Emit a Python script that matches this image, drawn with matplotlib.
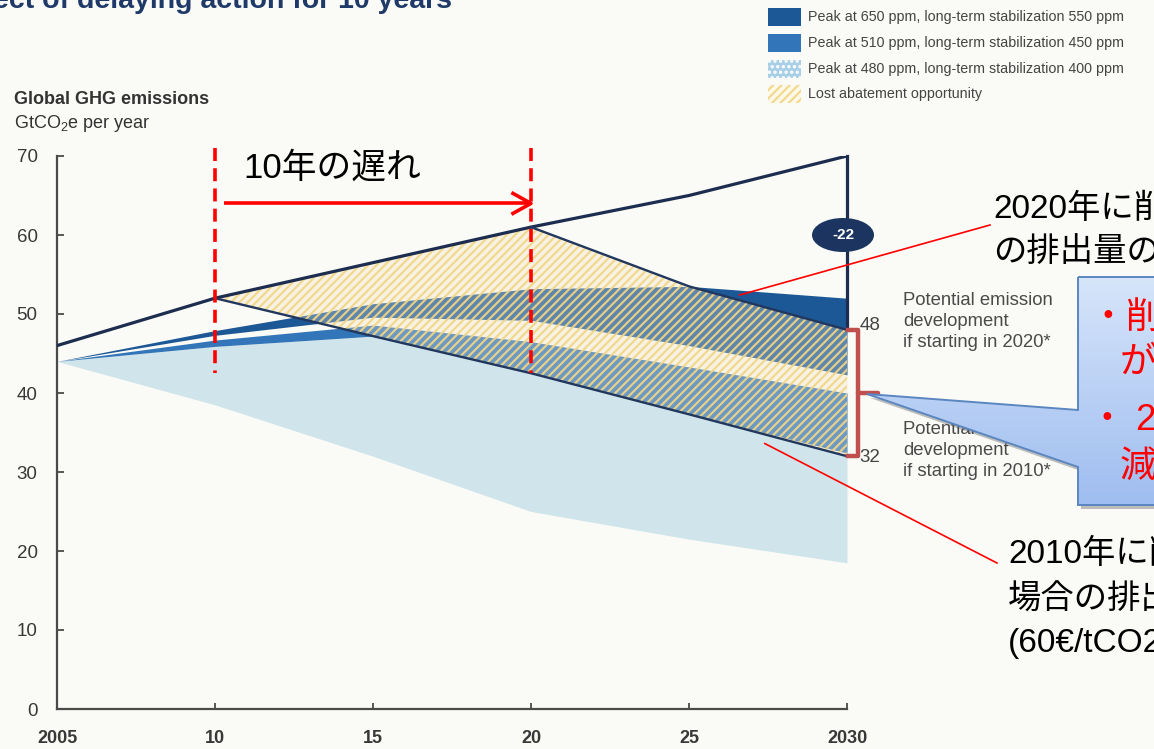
import numpy as np
import matplotlib
matplotlib.use("Agg")
import matplotlib.pyplot as plt
from matplotlib.patches import Polygon, Ellipse, Rectangle
from matplotlib.colors import LinearSegmentedColormap

# ---------------------------------------------------------------- data
years = [2005, 2010, 2015, 2020, 2025, 2030]
year_labels = ["2005", "10", "15", "20", "25", "2030"]
y_ticks = [0, 10, 20, 30, 40, 50, 60, 70]

# business-as-usual emissions, GtCO2e per year
bau = [46, 52, 56.5, 61, 65, 70]

# abatement paths
start2010_years = [2010, 2015, 2020, 2025, 2030]
start2010 = [52, 47.2, 42.5, 37.3, 32]
start2020_years = [2020, 2025, 2030]
start2020 = [61, 53.5, 48]

# stabilization pathway ranges
p550_hi = [44, 47.9, 51.3, 53.2, 53.5, 52.0]
p550_lo = [44, 47.3, 49.6, 49.2, 46.0, 42.3]
p450_hi = [44, 46.7, 48.6, 46.5, 43.3, 40.0]
p450_lo = [44, 45.9, 47.2, 42.5, 37.3, 32.4]
p400_lo = [44, 38.5, 32.0, 25.0, 21.5, 18.5]

legend_labels = [
    "Peak at 650 ppm, long-term stabilization 550 ppm",
    "Peak at 510 ppm, long-term stabilization 450 ppm",
    "Peak at 480 ppm, long-term stabilization 400 ppm",
    "Lost abatement opportunity",
]

# ---------------------------------------------------------------- style
JP = ["Liberation Sans", "Noto Sans CJK JP", "DejaVu Sans"]
plt.rcParams["font.family"] = ["Liberation Sans", "Noto Sans CJK JP", "DejaVu Sans"]
plt.rcParams["mathtext.fontset"] = "custom"
plt.rcParams["mathtext.rm"] = "Liberation Sans"
plt.rcParams["mathtext.it"] = "Liberation Sans"
plt.rcParams["mathtext.bf"] = "Liberation Sans:bold"
plt.rcParams["hatch.linewidth"] = 1.6

BG = "#fafbf6"
NAVY_LINE = "#1d2d50"
C550 = "#1c5896"
C450 = "#3275b8"
C400 = "#d0e5eb"
CREAM = "#fdf9ea"
HATCH = (0.95, 0.84, 0.52, 0.9)
RED = "#ff0000"
BRACKET = "#c0504d"

W, H = 1154, 749
fig = plt.figure(figsize=(W / 100, H / 100), dpi=100, facecolor=BG)


def fr(x, y):
    """pixel position (top-left origin) -> figure fraction"""
    return x / W, 1 - y / H


x0, y0 = fr(57, 709)
x1, y1 = fr(847, 156)
ax = fig.add_axes([x0, y0, x1 - x0, y1 - y0])
ax.set_xlim(2005, 2030)
ax.set_ylim(0, 70)
ax.patch.set_alpha(0)

yrs = np.array(start2010_years, dtype=float)
upper = np.where(yrs <= 2020,
                 np.interp(yrs, years, bau),
                 np.interp(yrs, start2020_years, start2020))

# 400 ppm range
ax.fill_between(years, p400_lo, p450_lo, color=C400, lw=0, zorder=1)
# lost abatement base
ax.fill_between(yrs, start2010, upper, color=CREAM, lw=0, zorder=2)
# 450 / 550 ppm ranges
ax.fill_between(years, p450_lo, p450_hi, color=C450, lw=0, zorder=3)
ax.fill_between(years, p550_lo, p550_hi, color=C550, lw=0, zorder=3)
# hatch veil over the lost abatement area
ax.fill_between(yrs, start2010, upper, color="#ece6d6", alpha=0.32, lw=0, zorder=4)
ax.fill_between(yrs, start2010, upper, facecolor="none", edgecolor=HATCH,
                hatch="////", lw=0, zorder=5)

# lines
ax.plot(years, bau, color=NAVY_LINE, lw=2.3, zorder=6, solid_capstyle="round")
ax.plot(start2010_years, start2010, color="#22375e", lw=1.7, zorder=6)
ax.plot(start2020_years, start2020, color="#22375e", lw=1.7, zorder=6)
ax.plot([2030, 2030], [start2020[-1], bau[-1]], color=NAVY_LINE, lw=2.3,
        zorder=6, clip_on=False)

# axes cosmetics
for s in ["top", "right"]:
    ax.spines[s].set_visible(False)
for s in ["left", "bottom"]:
    ax.spines[s].set_color("#4a4a4a")
    ax.spines[s].set_linewidth(1.6)
ax.set_xticks(years)
ax.set_xticklabels(year_labels)
ax.set_yticks(y_ticks)
ax.tick_params(axis="y", direction="in", length=5, width=1.3, pad=14,
               labelsize=13.5, color="#4a4a4a", labelcolor="#383838")
ax.tick_params(axis="x", direction="in", length=4, width=1.3, pad=15,
               labelsize=13, color="#4a4a4a", labelcolor="#383838")
for lb in ax.get_xticklabels():
    lb.set_fontweight("bold")

# ---------------------------------------------------------------- overlay in pixel space
ov = fig.add_axes([0, 0, 1, 1], zorder=10)
ov.axis("off")


def d2p(x, y):
    X, Y = ax.transData.transform((x, y))
    return X, H - Y


# titles
fig.text(*fr(452, 8), "Effect of delaying action for 10 years", ha="right",
         va="baseline", fontsize=20.5, weight="bold", color="#1f3a68")
fig.text(*fr(14, 100), "Global GHG emissions", va="center", fontsize=13,
         weight="bold", color="#333333")
fig.text(*fr(14, 124), r"GtCO$_2$e per year", va="center", fontsize=13,
         color="#333333")

# legend
legend_rows = [17, 43, 69, 94]
legend_face = [C550, C450, "#a9cfe6", CREAM]
legend_hatch = [None, None, "...", "////"]
legend_edge = [C550, C450, "white", HATCH]
for yc, lab, fc, hc, ec in zip(legend_rows, legend_labels, legend_face,
                               legend_hatch, legend_edge):
    ov.add_patch(Rectangle((768, yc - 9), 33, 18, facecolor=fc, edgecolor=ec,
                           hatch=hc, lw=0))
    ov.text(808, yc, lab, va="center", ha="left", fontsize=10.3, color="#444444")

# red delay marker
for yr in (2010, 2020):
    ov.plot([d2p(yr, 0)[0]] * 2, [148, d2p(yr, 42.5)[1]], color=RED, lw=2.6,
            ls=(0, (3.6, 2.0)))
ax_y = d2p(2010, 64)[1]
xs, xe = d2p(2010.3, 0)[0], d2p(2020, 0)[0]
ov.plot([xs, xe], [ax_y, ax_y], color=RED, lw=2.6, solid_capstyle="butt")
ov.plot([xe - 18, xe, xe - 18], [ax_y - 10, ax_y, ax_y + 10], color=RED, lw=2.6)
ov.text(243, 168, "10年の遅れ", va="center", ha="left", fontsize=25,
        family=JP, color="black")

# -22 badge
ex, ey = d2p(2030, 60)
ov.add_patch(Ellipse((ex - 4, ey), 62, 34, facecolor="#1c3560", edgecolor="none"))
ov.text(ex - 4, ey, f"{start2020[-1] - bau[-1]:.0f}", ha="center", va="center",
        fontsize=11, weight="bold", color="white")

# end values and bracket
bx = d2p(2030, 0)[0]
ov.text(bx + 23, d2p(2030, start2020[-1])[1] - 4, f"{start2020[-1]:.0f}",
        ha="center", va="center", fontsize=13.5, color="#444444")
ov.text(bx + 23, d2p(2030, start2010[-1])[1] + 1, f"{start2010[-1]:.0f}",
        ha="center", va="center", fontsize=13.5, color="#444444")
bt = d2p(2030, start2020[-1])[1]
bb = d2p(2030, start2010[-1])[1]
bm = (bt + bb) / 2
ov.plot([bx + 1, bx + 11, bx + 11, bx + 1], [bt, bt, bb, bb], color=BRACKET,
        lw=3.2, solid_joinstyle="round")
ov.plot([bx + 11, bx + 31], [bm, bm], color=BRACKET, lw=3.2,
        solid_capstyle="round")

# side notes
ov.text(903, 292, "Potential emission\ndevelopment\nif starting in 2020*",
        va="top", ha="left", fontsize=13.3, color="#4a4a4a", linespacing=1.3)
ov.text(903, 421, "Potential emission\ndevelopment\nif starting in 2010*",
        va="top", ha="left", fontsize=13.3, color="#4a4a4a", linespacing=1.3)

# callout with pointer to the bracket
tip = (bx + 20, bm + 1)
verts = [(1078, 277), (1175, 277), (1175, 505), (1078, 505), (1078, 467), tip,
         (1078, 410)]
shadow = Polygon([(x + 3, y + 4) for x, y in verts], closed=True,
                 facecolor="#8a8a8a", edgecolor="none", alpha=0.55, zorder=2)
ov.add_patch(shadow)
callout = Polygon(verts, closed=True, facecolor="none", edgecolor="#5b86c0",
                  lw=1.4, zorder=4)
ov.add_patch(callout)
grad_cmap = LinearSegmentedColormap.from_list("callout", ["#d6e5fa", "#9fbdf0"])
im = ov.imshow(np.linspace(0, 1, 200)[:, None], cmap=grad_cmap, aspect="auto",
               extent=(850, 1180, 505, 277), zorder=3, interpolation="bilinear")
im.set_clip_path(callout)
callout_lines = [
    (1089, 318, "・削減ポテンシャル"),
    (1120, 363, "が大きく減少"),
    (1089, 420, "・ 22Gtの削"),
    (1120, 467, "減機会を逸失"),
]
for x, y, s in callout_lines:
    ov.text(x, y, s, va="center", ha="left", fontsize=26.5, family=JP,
            color=RED, zorder=5)

# red leader lines and notes
p1 = d2p(2026.6, 52.4)
ov.plot([p1[0], 990], [p1[1], 225], color=RED, lw=1.2)
p2 = d2p(2027.4, 33.6)
ov.plot([p2[0], 997], [p2[1], 563], color=RED, lw=1.2)
for y, s in [(209, "2020年に削減を開始した場合"), (252, "の排出量の見通し")]:
    ov.text(993, y, s, va="center", ha="left", fontsize=24, family=JP,
            color="black")
for y, s in [(554, "2010年に削減を開始した"), (600, "場合の排出量見通し"),
             (641, "(60€/tCO2e以下の対策)")]:
    ov.text(1008, y, s, va="center", ha="left", fontsize=24, family=JP,
            color="black")

ov.set_xlim(0, W)
ov.set_ylim(H, 0)

fig.savefig("out.png", dpi=100, facecolor=BG)
